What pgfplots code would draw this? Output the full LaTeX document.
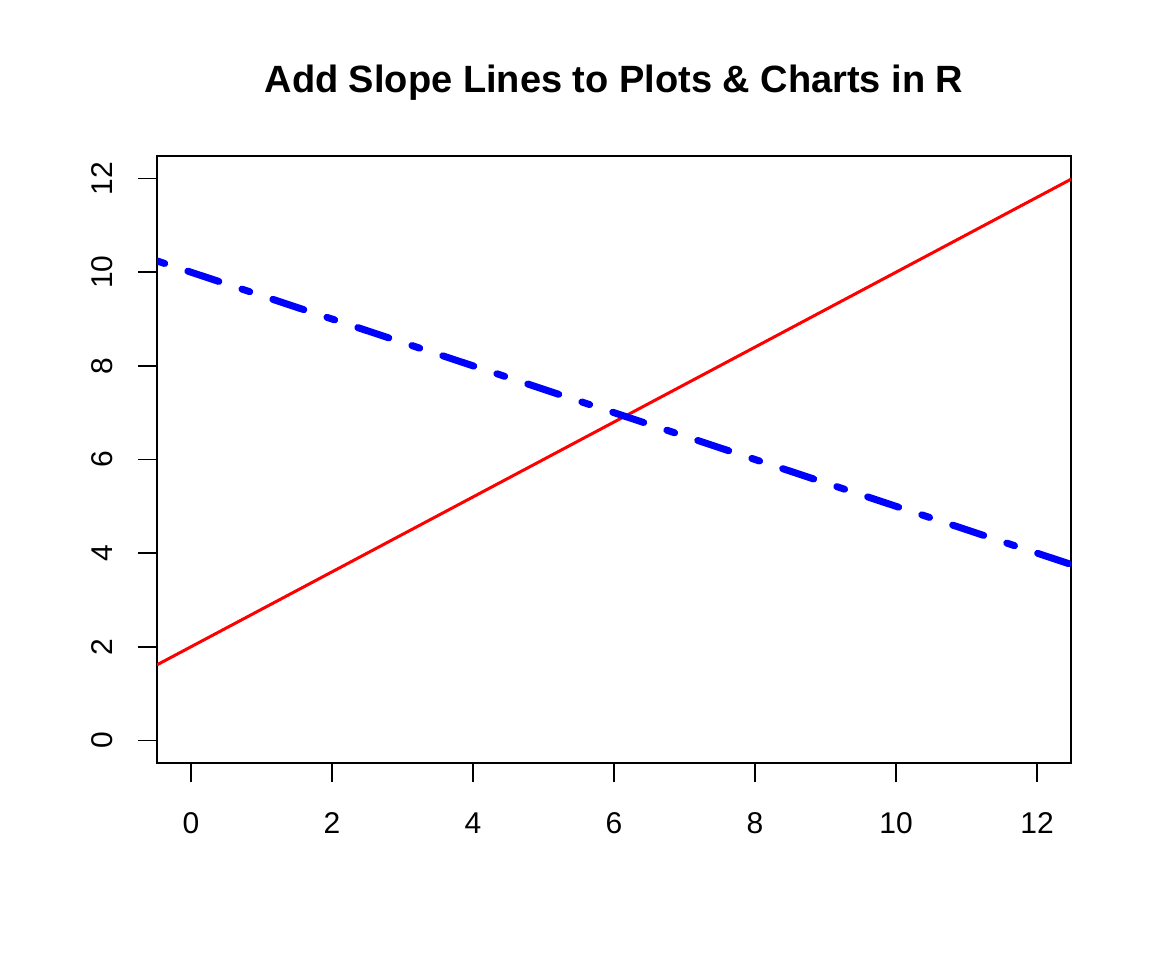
\documentclass[border=0pt]{standalone}
\usepackage{pgfplots}
\pgfplotsset{compat=1.18}
\usepackage{fontspec}
\setmainfont{Liberation Sans}
\begin{document}
\begin{tikzpicture}
\begin{axis}[
  at={(0pt,0pt)}, anchor=south west,
  scale only axis,
  width=457pt, height=303.5pt,
  xmin=-0.48, xmax=12.48, ymin=-0.48, ymax=12.48,
  xtick={0,2,4,6,8,10,12}, ytick={0,2,4,6,8,10,12},
  tick align=outside,
  major tick length=9.5pt,
  axis line style={line width=0.85pt},
  every tick/.style={black, line width=0.85pt},
  xtick pos=lower, ytick pos=left,
  tick label style={font=\fontsize{15}{18}\selectfont},
  /pgf/number format/assume math mode=true,
  xticklabel style={anchor=base, yshift=-25.5pt},
  yticklabel style={xshift=-12.7pt, rotate=90, anchor=base},
  title={Add Slope Lines to Plots \& Charts in R},
  title style={at={(0.5,1)}, anchor=base, yshift=25.5pt, font=\fontsize{19}{22}\selectfont\bfseries},
]
\addplot[color={rgb,255:red,255;green,0;blue,0}, line width=1.5pt] coordinates {(-0.48,1.616) (12.48,11.984)};
\addplot[color={rgb,255:red,0;green,0;blue,255}, line width=3.5pt, line cap=round, dash pattern=on 4.07pt off 12.2pt on 16.3pt off 12.2pt] coordinates {(-0.48,10.24) (12.48,3.76)};
\end{axis}
\path[use as bounding box] (-78.5pt,-98.5pt) rectangle (497.5pt,381.5pt);
\end{tikzpicture}
\end{document}
